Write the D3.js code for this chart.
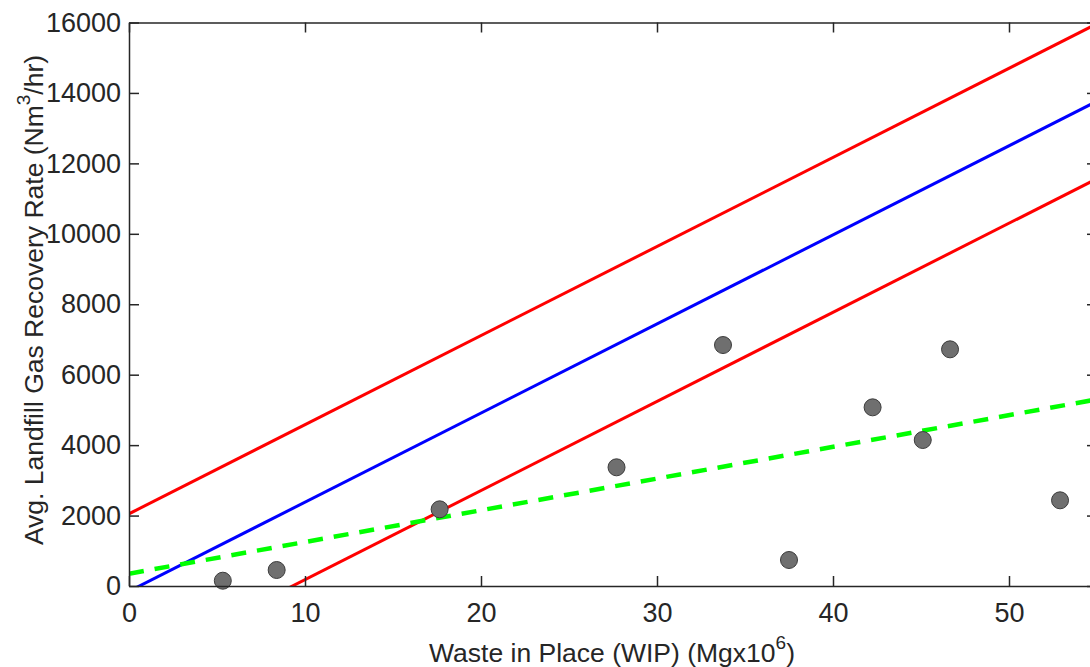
<!DOCTYPE html>
<html>
<head>
<meta charset="utf-8">
<script src="https://cdn.jsdelivr.net/npm/d3@7"></script>
<style>
  body { margin: 0; background: #fff; }
  text { font-family: "Liberation Sans", Arial, Helvetica, sans-serif; fill: #262626; }
</style>
</head>
<body>
<svg id="chart" width="1090" height="667"></svg>
<script>
// MARK: data

const wip      = [5.33, 8.39, 17.65, 27.7, 33.75, 37.5, 42.25, 45.1, 46.65, 52.9]
const recovery = [150, 454, 2177, 3370, 6842, 738, 5073, 4145, 6720, 2433]

// fitted lines as [intercept, slope] (y = a + b * x)
const fitLine   = [-150, 253]
const upperBand = [2050, 253]
const lowerBand = [-2350, 253]
const trendLine = [350, 90]

const xTicks = [0, 10, 20, 30, 40, 50]
const yTicks = [0, 2000, 4000, 6000, 8000, 10000, 12000, 14000, 16000]

// MARK: layout

const LEFT   = 129
const RIGHT  = 1097
const TOP    = 22.5
const BOTTOM = 586
const TICK   = 10
const AXIS   = '#262626'

const svg = d3.select('#chart')

const x = d3.scaleLinear().domain([0, 55]).range([LEFT, RIGHT])
const y = d3.scaleLinear().domain([0, 16000]).range([BOTTOM, TOP])

svg.append('defs').append('clipPath')
  .attr('id', 'plot-area')
  .append('rect')
  .attr('x', LEFT).attr('y', TOP)
  .attr('width', RIGHT - LEFT).attr('height', BOTTOM - TOP)

const plot = svg.append('g').attr('clip-path', 'url(#plot-area)')

// straight lines, drawn across the whole x range and clipped to the box
const lineGen = d3.line().x((d) => x(d[0])).y((d) => y(d[1]))
const lineData = (coef) => [0, 55].map((v) => [v, coef[0] + coef[1] * v])

const lines = [
  { coef: upperBand, color: '#ff0000', width: 3, dash: null },
  { coef: lowerBand, color: '#ff0000', width: 3, dash: null },
  { coef: fitLine  , color: '#0000ff', width: 3, dash: null },
  { coef: trendLine, color: '#00ff00', width: 4.5, dash: '15,11' },
]

plot.selectAll('path.fit')
  .data(lines).enter()
  .append('path')
  .attr('class'           , 'fit')
  .attr('d'               , (l) => lineGen(lineData(l.coef)))
  .attr('fill'            , 'none')
  .attr('stroke'          , (l) => l.color)
  .attr('stroke-width'    , (l) => l.width)
  .attr('stroke-dasharray', (l) => l.dash)

// points
svg.append('g').selectAll('circle')
  .data(wip.map((w, i) => [w, recovery[i]])).enter()
  .append('circle')
  .attr('cx'          , (d) => x(d[0]))
  .attr('cy'          , (d) => y(d[1]))
  .attr('r'           , 8.5)
  .attr('fill'        , '#6f6f6f')
  .attr('stroke'      , '#3c3c3c')
  .attr('stroke-width', 1)

// MARK: axes (MATLAB style box with inward ticks)

const tickSize = (axis) => axis.tickSizeInner(-TICK).tickSizeOuter(0)

const bottomAxis = svg.append('g')
  .attr('transform', `translate(0,${BOTTOM})`)
  .call(tickSize(d3.axisBottom(x).tickValues(xTicks)).tickPadding(17))
const topAxis = svg.append('g')
  .attr('transform', `translate(0,${TOP})`)
  .call(tickSize(d3.axisTop(x).tickValues(xTicks)).tickFormat(''))
const leftAxis = svg.append('g')
  .attr('transform', `translate(${LEFT},0)`)
  .call(tickSize(d3.axisLeft(y).tickValues(yTicks)).tickFormat(d3.format('d')).tickPadding(8))
const rightAxis = svg.append('g')
  .attr('transform', `translate(${RIGHT},0)`)
  .call(tickSize(d3.axisRight(y).tickValues(yTicks)).tickFormat(''))

for (const g of [bottomAxis, topAxis, leftAxis, rightAxis]) {
  g.select('.domain').attr('stroke', AXIS).attr('stroke-width', 1.5)
  g.selectAll('.tick line').attr('stroke', AXIS).attr('stroke-width', 1.5)
  g.selectAll('.tick text')
    .attr('fill', AXIS)
    .style('font-size', '27px')
    .style('font-family', '"Liberation Sans", Arial, sans-serif')
}

// MARK: axis titles

const xTitle = svg.append('text')
  .attr('x', 612)
  .attr('y', 662)
  .attr('text-anchor', 'middle')
  .style('font-size', '26.5px')
xTitle.append('tspan').text('Waste in Place (WIP) (Mgx10')
xTitle.append('tspan').attr('dy', -13).style('font-size', '19px').text('6')
xTitle.append('tspan').attr('dy', 13).text(')')

const yTitle = svg.append('text')
  .attr('transform', 'translate(43,300) rotate(-90)')
  .attr('text-anchor', 'middle')
  .style('font-size', '26.5px')
yTitle.append('tspan').text('Avg. Landfill Gas Recovery Rate (Nm')
yTitle.append('tspan').attr('dy', -13).style('font-size', '19px').text('3')
yTitle.append('tspan').attr('dy', 13).text('/hr)')
</script>
</body>
</html>
